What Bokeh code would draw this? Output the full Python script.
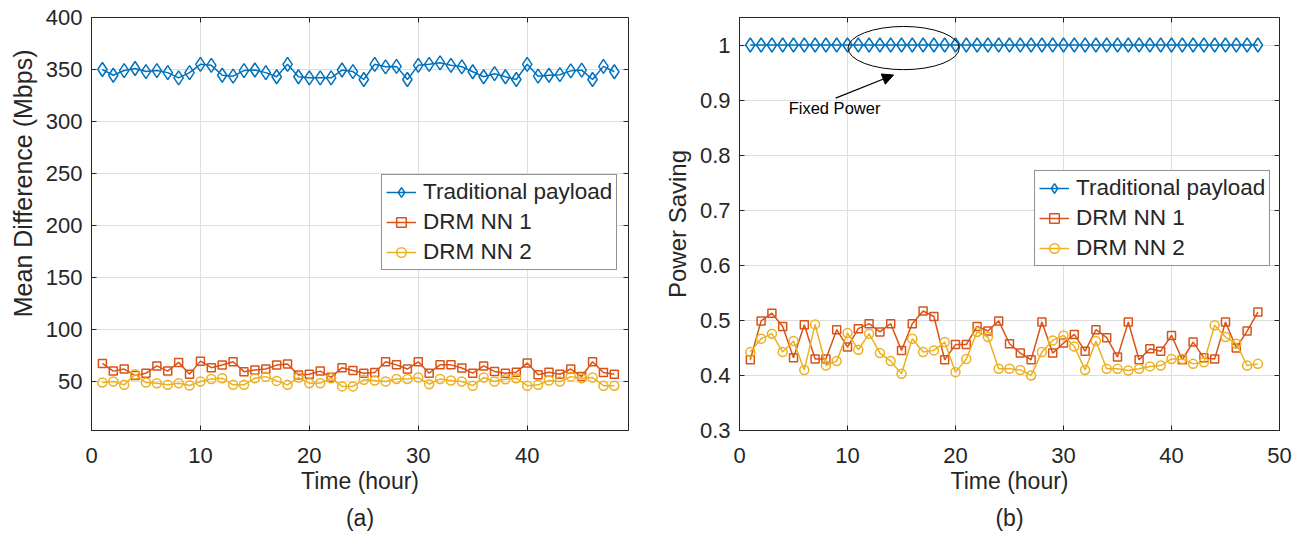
from bokeh.plotting import figure
from bokeh.layouts import row
from bokeh.models import (FixedTicker, LinearAxis, Legend, LegendItem, Title,
                          Arrow, NormalHead, Label, Range1d)
from bokeh.embed import file_html
from bokeh.resources import INLINE

# ---------------- data ----------------
hours = list(range(1, 49))

trad_a = [350, 344.5, 349, 351, 348, 349, 347, 342, 347, 355,
          354, 344.5, 343.6, 349, 349.5, 347, 343, 355, 343, 342,
          342, 342, 349.5, 348, 340.4, 355, 352.6, 353, 340.4, 354,
          355, 356.4, 354, 352.6, 347.8, 343, 346, 343, 340.4, 355,
          343.6, 344.5, 345, 348.7, 349.4, 340.4, 353, 347.8]
drm1_a = [67.4, 60, 62, 55.7, 58, 65, 60, 68.4, 57, 69.6,
          63.3, 65.8, 69, 59.5, 61, 62, 65.8, 66.8, 56.3, 57,
          60, 54, 63.3, 60.5, 58, 58.7, 69, 66, 62, 69,
          58, 66, 66, 63, 58, 65, 59.7, 58, 59, 67.7,
          56.5, 59, 57, 62, 54.8, 69, 58.7, 57]
drm2_a = [49, 50, 46.8, 57, 49, 48.4, 46.8, 48.4, 46.2, 50,
          52.5, 53.2, 46.8, 46.8, 53.2, 54.7, 50.6, 46.8, 53.8, 48.4,
          48.4, 53.2, 45.3, 45.3, 51.6, 51, 50, 52.5, 52.5, 53.8,
          47.4, 52.5, 51, 50, 46, 53.8, 50, 52.2, 53.2, 46,
          46.8, 51, 50, 54.7, 53.2, 53.8, 46, 46]

trad_b = [1.0] * 48
drm1_b = [0.4285, 0.499, 0.513, 0.489, 0.432, 0.492, 0.430, 0.430, 0.483, 0.4515,
          0.485, 0.494, 0.479, 0.494, 0.4455, 0.494, 0.517, 0.507, 0.4285, 0.456,
          0.456, 0.489, 0.4806, 0.499, 0.4576, 0.4406, 0.4285, 0.497, 0.4406, 0.4588,
          0.4745, 0.444, 0.483, 0.4685, 0.4333, 0.497, 0.4285, 0.4485, 0.444, 0.4727,
          0.4285, 0.4606, 0.432, 0.430, 0.497, 0.450, 0.4806, 0.515]
drm2_b = [0.4424, 0.4667, 0.4758, 0.4424, 0.4624, 0.41, 0.4927, 0.418, 0.426, 0.477,
          0.4467, 0.4758, 0.4406, 0.426, 0.403, 0.4667, 0.4424, 0.4455, 0.4606, 0.406,
          0.430, 0.479, 0.4697, 0.412, 0.412, 0.410, 0.400, 0.4424, 0.4636, 0.4727,
          0.4527, 0.410, 0.4624, 0.412, 0.412, 0.409, 0.412, 0.4164, 0.418, 0.430,
          0.430, 0.421, 0.424, 0.491, 0.4697, 0.4576, 0.418, 0.421]

series_names = ["Traditional payload", "DRM NN 1", "DRM NN 2"]

xticks_a = [0, 10, 20, 30, 40]
yticks_a = [50, 100, 150, 200, 250, 300, 350, 400]
xticks_b = [0, 10, 20, 30, 40, 50]
yticks_b = [0.3, 0.4, 0.5, 0.6, 0.7, 0.8, 0.9, 1.0]
ylabels_b = ["0.3", "0.4", "0.5", "0.6", "0.7", "0.8", "0.9", "1"]

# ---------------- style ----------------
FONT = "Liberation Sans"
TXT = "#262626"
GRID = "#dedede"
BLUE, ORANGE, YELLOW = "#0072BD", "#D95319", "#EDB120"
FS_TICK = "22px"
FS_XLAB = "23px"
FS_LEG = "22.5px"
HEIGHT = 539


def make_fig(width, min_left, min_right, xr, yr, xt, yt):
    p = figure(width=width, height=HEIGHT, x_range=Range1d(*xr), y_range=Range1d(*yr),
               output_backend="svg", toolbar_location=None,
               min_border_left=min_left, min_border_right=min_right,
               min_border_top=17, min_border_bottom=HEIGHT - 430)
    p.background_fill_color = "white"
    p.border_fill_color = "white"
    p.outline_line_color = TXT
    p.outline_line_width = 1
    p.xaxis.ticker = FixedTicker(ticks=xt)
    p.yaxis.ticker = FixedTicker(ticks=yt)
    for ax in (p.xaxis[0], p.yaxis[0]):
        ax.major_label_text_font = FONT
        ax.major_label_text_font_size = FS_TICK
        ax.major_label_text_color = TXT
        ax.axis_label_text_font = FONT
        ax.axis_label_text_font_size = FS_XLAB
        ax.axis_label_text_font_style = "normal"
        ax.axis_label_text_color = TXT
        ax.axis_line_color = TXT
        ax.major_tick_line_color = TXT
        ax.major_tick_in = 5
        ax.major_tick_out = 0
        ax.minor_tick_line_color = None
    p.xaxis[0].major_label_standoff = 17
    p.yaxis[0].major_label_standoff = 9
    p.xaxis[0].axis_label = "Time (hour)"
    p.xaxis[0].axis_label_standoff = 2
    p.xgrid.grid_line_color = GRID
    p.ygrid.grid_line_color = GRID
    return p


def add_box_ticks(p, xt, yt):
    for side, t in (("above", xt), ("right", yt)):
        ax = LinearAxis(ticker=FixedTicker(ticks=t), major_label_text_color=None,
                        major_label_standoff=0, major_tick_in=5, major_tick_out=0,
                        minor_tick_line_color=None, axis_line_color=None,
                        major_tick_line_color=TXT)
        p.add_layout(ax, side)


def add_series(p, ys, loc):
    r = []
    specs = [(ys[0], BLUE, "diamond", 14), (ys[1], ORANGE, "square", 8), (ys[2], YELLOW, "circle", 9)]
    for y, c, m, s in specs:
        ln = p.line(hours, y, line_color=c, line_width=1.5)
        sc = p.scatter(hours, y, marker=m, size=s, fill_color=None, line_color=c, line_width=1.5)
        r.append([ln, sc])
    items = [LegendItem(label=n, renderers=rr) for n, rr in zip(series_names, r)]
    leg = Legend(items=items, location=loc, label_text_font=FONT, label_text_font_size=FS_LEG,
                 label_text_color=TXT, glyph_width=30, glyph_height=24, label_height=24,
                 spacing=4, padding=4, margin=0, label_standoff=7,
                 border_line_color=TXT, border_line_width=1, background_fill_alpha=1)
    p.add_layout(leg)


# ---------------- panel (a) ----------------
pa = make_fig(648, 88, 20, (0, 49.3), (2.9, 400), xticks_a, yticks_a)
add_series(pa, [trad_a, drm1_a, drm2_a], (290, 160))
pa.add_layout(Title(text="Mean Difference (Mbps)", align="right", offset=32,
                    text_font=FONT, text_font_size="25px", text_font_style="normal",
                    text_color=TXT, standoff=12), "left")
pa.add_layout(Title(text="(a)", align="center", text_font=FONT, text_font_size=FS_XLAB,
                    text_font_style="normal", text_color=TXT, standoff=13), "below")
add_box_ticks(pa, xticks_a, yticks_a)

# ---------------- panel (b) ----------------
pb = make_fig(654, 91, 23, (0, 50), (0.3, 1.05), xticks_b, yticks_b)
pb.yaxis[0].major_label_overrides = {t: l for t, l in zip(yticks_b, ylabels_b)}
pb.yaxis[0].axis_label = "Power Saving"
pb.yaxis[0].axis_label_text_font_size = "24px"
pb.yaxis[0].axis_label_standoff = 6
add_series(pb, [trad_b, drm1_b, drm2_b], (295, 164))
pb.add_layout(Title(text="(b)", align="center", text_font=FONT, text_font_size=FS_XLAB,
                    text_font_style="normal", text_color=TXT, standoff=13), "below")
add_box_ticks(pb, xticks_b, yticks_b)

# annotation "Fixed Power"
pb.ellipse(x=[15.2], y=[0.9945], width=10.3, height=0.0785, fill_color=None,
           line_color="black", line_width=1)
pb.add_layout(Arrow(end=NormalHead(size=11, fill_color="black", line_color="black"),
                    x_start=8.9, y_start=0.9036, x_end=14.26, y_end=0.9455,
                    line_color="black", line_width=1.2))
pb.add_layout(Label(x=8.8, y=0.8855, text="Fixed Power", text_align="center",
                    text_baseline="middle", text_font=FONT, text_font_size="16.5px",
                    text_color="black"))

layout = row(pa, pb)
open("out.html", "w").write(file_html(layout, INLINE))
